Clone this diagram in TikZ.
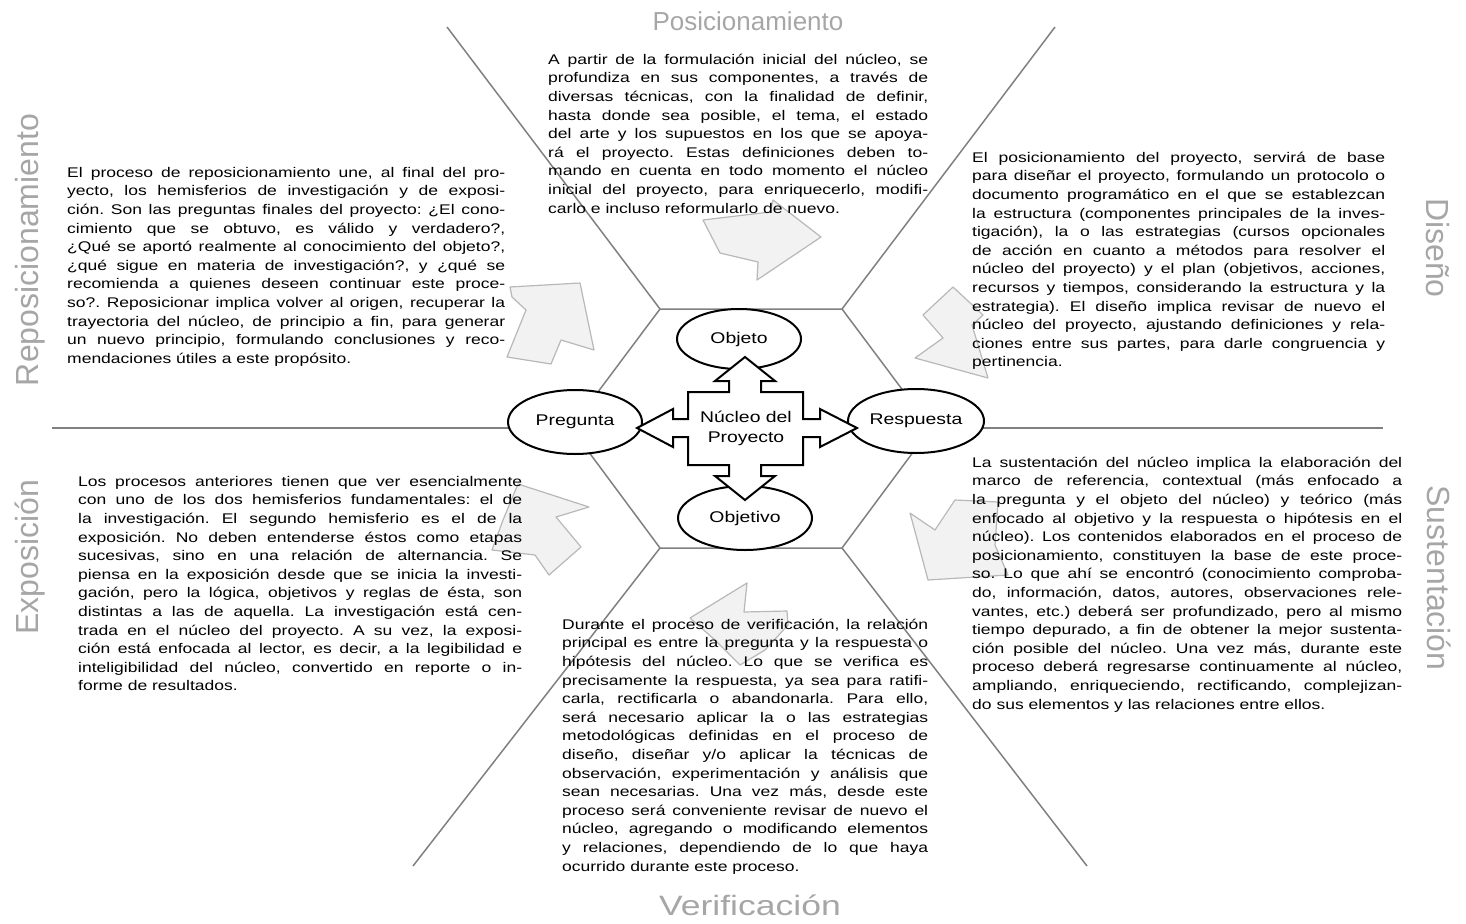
\documentclass[tikz,border=0pt]{standalone}
\usepackage{fontspec}
\usetikzlibrary{shapes.geometric}
\newfontfamily\bodyfont[FakeStretch=1.25]{Liberation Sans}
\newfontfamily\labelfont{Liberation Sans}
\newfontfamily\labelwide[FakeStretch=1.27]{Liberation Sans}
\newcommand\JL[1]{\makebox[\linewidth][s]{#1}\\}
\frenchspacing
\begin{document}
\begin{tikzpicture}[x=1pt,y=-1pt,
  hexline/.style={draw=black!50, line width=1.5pt},
  flowarrow/.style={draw=black!28, fill=black!5, line width=1.2pt, line join=round},
  bodytext/.style={anchor=north west, inner sep=0pt, align=justify, font=\bodyfont\fontsize{14}{18.6}\selectfont\frenchspacing},
  oval/.style={ellipse, draw=black, line width=2pt, fill=white, inner sep=0pt, font=\bodyfont\fontsize{15.5}{20}\selectfont},
  crossarrow/.style={draw=black, line width=2pt, fill=white, line join=miter},
  toplabel/.style={font=\labelfont\fontsize{26}{26}\selectfont, text=black!35},
  sidelabel/.style={font=\labelfont\fontsize{32}{32}\selectfont, text=black!35}
]
\useasboundingbox (0,0) rectangle (1466,923);

% hexagon vertices and ray ends
\coordinate (h1) at (660,309);
\coordinate (h2) at (842,309);
\coordinate (h3) at (931,428);
\coordinate (h4) at (842,548);
\coordinate (h5) at (660,548);
\coordinate (h6) at (571,428);
\coordinate (r1) at (447,27);
\coordinate (r2) at (1055,27);
\coordinate (r3) at (1383,428);
\coordinate (r4) at (1087,866);
\coordinate (r5) at (413,866);
\coordinate (r6) at (52,428);
\draw[hexline] (h1)--(h2)--(h3)--(h4)--(h5)--(h6)--cycle;
\draw[hexline] (h1)--(r1);
\draw[hexline] (h2)--(r2);
\draw[hexline] (h3)--(r3);
\draw[hexline] (h4)--(r4);
\draw[hexline] (h5)--(r5);
\draw[hexline] (h6)--(r6);

% light flow arrows
\draw[flowarrow] (703,220)--(770,212)--(773,200)--(821,237)--(757,280)--(758,262)--(720,253)--cycle;
\draw[flowarrow] (953,287)--(923,315)--(943,338)--(915,358)--(988,378)--(972,325)--(983,315)--cycle;
\draw[flowarrow] (510,287)--(580,283)--(594,350)--(561,340)--(551,364)--(507,357)--(526,310)--(512,297)--cycle;
\draw[flowarrow] (518,484)--(589,507)--(556,517)--(581,547)--(549,575)--(535,555)--(492,550)--(503,520)--cycle;
\draw[flowarrow] (747,583)--(744,612)--(787,611)--(788,625)--(765,650)--(740,665)--(715,640)--(690,618)--cycle;
\draw[flowarrow] (910,513)--(935,530)--(955,500)--(998,502)--(995,545)--(1008,575)--(928,580)--cycle;

% body texts
\node[bodytext, text width=380pt] (tpos) at (548,51) {%
\JL{\strut A partir de la formulación inicial del núcleo, se}
\JL{profundiza en sus componentes, a través de}
\JL{diversas técnicas, con la finalidad de definir,}
\JL{hasta donde sea posible, el tema, el estado}
\JL{del arte y los supuestos en los que se apoya-}
\JL{rá el proyecto. Estas definiciones deben to-}
\JL{mando en cuenta en todo momento el núcleo}
\JL{inicial del proyecto, para enriquecerlo, modifi-}
carlo e incluso reformularlo de nuevo.};

\node[bodytext, text width=438pt] (trep) at (67,164) {%
\JL{\strut El proceso de reposicionamiento une, al final del pro-}
\JL{yecto, los hemisferios de investigación y de exposi-}
\JL{ción. Son las preguntas finales del proyecto: ¿El cono-}
\JL{cimiento que se obtuvo, es válido y verdadero?,}
\JL{¿Qué se aportó realmente al conocimiento del objeto?,}
\JL{¿qué sigue en materia de investigación?, y ¿qué se}
\JL{recomienda a quienes deseen continuar este proce-}
\JL{so?. Reposicionar implica volver al origen, recuperar la}
\JL{trayectoria del núcleo, de principio a fin, para generar}
\JL{un nuevo principio, formulando conclusiones y reco-}
mendaciones útiles a este propósito.};

\node[bodytext, text width=413pt] (tdis) at (972,149) {%
\JL{\strut El posicionamiento del proyecto, servirá de base}
\JL{para diseñar el proyecto, formulando un protocolo o}
\JL{documento programático en el que se establezcan}
\JL{la estructura (componentes principales de la inves-}
\JL{tigación), la o las estrategias (cursos opcionales}
\JL{de acción en cuanto a métodos para resolver el}
\JL{núcleo del proyecto) y el plan (objetivos, acciones,}
\JL{recursos y tiempos, considerando la estructura y la}
\JL{estrategia). El diseño implica revisar de nuevo el}
\JL{núcleo del proyecto, ajustando definiciones y rela-}
\JL{ciones entre sus partes, para darle congruencia y}
pertinencia.};

\node[bodytext, text width=444pt] (texp) at (78,473) {%
\JL{\strut Los procesos anteriores tienen que ver esencialmente}
\JL{con uno de los dos hemisferios fundamentales: el de}
\JL{la investigación. El segundo hemisferio es el de la}
\JL{exposición. No deben entenderse éstos como etapas}
\JL{sucesivas, sino en una relación de alternancia. Se}
\JL{piensa en la exposición desde que se inicia la investi-}
\JL{gación, pero la lógica, objetivos y reglas de ésta, son}
\JL{distintas a las de aquella. La investigación está cen-}
\JL{trada en el núcleo del proyecto. A su vez, la exposi-}
\JL{ción está enfocada al lector, es decir, a la legibilidad e}
\JL{inteligibilidad del núcleo, convertido en reporte o in-}
forme de resultados.};

\node[bodytext, text width=430pt] (tsus) at (972,454) {%
\JL{\strut La sustentación del núcleo implica la elaboración del}
\JL{marco de referencia, contextual (más enfocado a}
\JL{la pregunta y el objeto del núcleo) y teórico (más}
\JL{enfocado al objetivo y la respuesta o hipótesis en el}
\JL{núcleo). Los contenidos elaborados en el proceso de}
\JL{posicionamiento, constituyen la base de este proce-}
\JL{so. Lo que ahí se encontró (conocimiento comproba-}
\JL{do, información, datos, autores, observaciones rele-}
\JL{vantes, etc.) deberá ser profundizado, pero al mismo}
\JL{tiempo depurado, a fin de obtener la mejor sustenta-}
\JL{ción posible del núcleo. Una vez más, durante este}
\JL{proceso deberá regresarse continuamente al núcleo,}
\JL{ampliando, enriqueciendo, rectificando, complejizan-}
do sus elementos y las relaciones entre ellos.};

\node[bodytext, text width=366pt] (tver) at (562,616) {%
\JL{\strut Durante el proceso de verificación, la relación}
\JL{principal es entre la pregunta y la respuesta o}
\JL{hipótesis del núcleo. Lo que se verifica es}
\JL{precisamente la respuesta, ya sea para ratifi-}
\JL{carla, rectificarla o abandonarla. Para ello,}
\JL{será necesario aplicar la o las estrategias}
\JL{metodológicas definidas en el proceso de}
\JL{diseño, diseñar y/o aplicar la técnicas de}
\JL{observación, experimentación y análisis que}
\JL{sean necesarias. Una vez más, desde este}
\JL{proceso será conveniente revisar de nuevo el}
\JL{núcleo, agregando o modificando elementos}
\JL{y relaciones, dependiendo de lo que haya}
ocurrido durante este proceso.};

% ellipses
\node[oval, minimum width=124pt, minimum height=60pt] (objeto) at (739,339) {Objeto};
\node[oval, minimum width=134pt, minimum height=64pt] (pregunta) at (575,422) {Pregunta};
\node[oval, minimum width=136pt, minimum height=64pt] (respuesta) at (916,421) {Respuesta};
\node[oval, minimum width=134pt, minimum height=64pt] (objetivo) at (745,518) {Objetivo};

% four-way arrow
\draw[crossarrow] (688,392)--(729,392)--(729,381)--(715,381)--(745,357)--(775,381)--(761,381)--(761,392)
  --(803,392)--(803,419)--(820,419)--(820,409)--(857,428)--(820,447)--(820,437)--(803,437)
  --(803,465)--(761,465)--(761,476)--(775,476)--(745,500)--(715,476)--(729,476)--(729,465)
  --(688,465)--(688,437)--(673,437)--(673,447)--(637,428)--(673,409)--(673,419)--(688,419)--cycle;
\node[align=center, inner sep=0pt, font=\bodyfont\fontsize{15.5}{20}\selectfont] (nucleo) at (746,428) {Núcleo del\\Proyecto};

% stage labels
\node[toplabel] (lpos) at (748,21) {Posicionamiento};
\node[toplabel, font=\labelwide\fontsize{28}{28}\selectfont] (lver) at (750,905) {Verificación};
\node[sidelabel, rotate=90] (lrep) at (30,250) {Reposicionamiento};
\node[sidelabel, rotate=90] (lexp) at (30,557) {Exposición};
\node[sidelabel, rotate=-90] (ldis) at (1438,248) {Diseño};
\node[sidelabel, rotate=-90] (lsus) at (1439,578) {Sustentación};
\end{tikzpicture}
\end{document}
